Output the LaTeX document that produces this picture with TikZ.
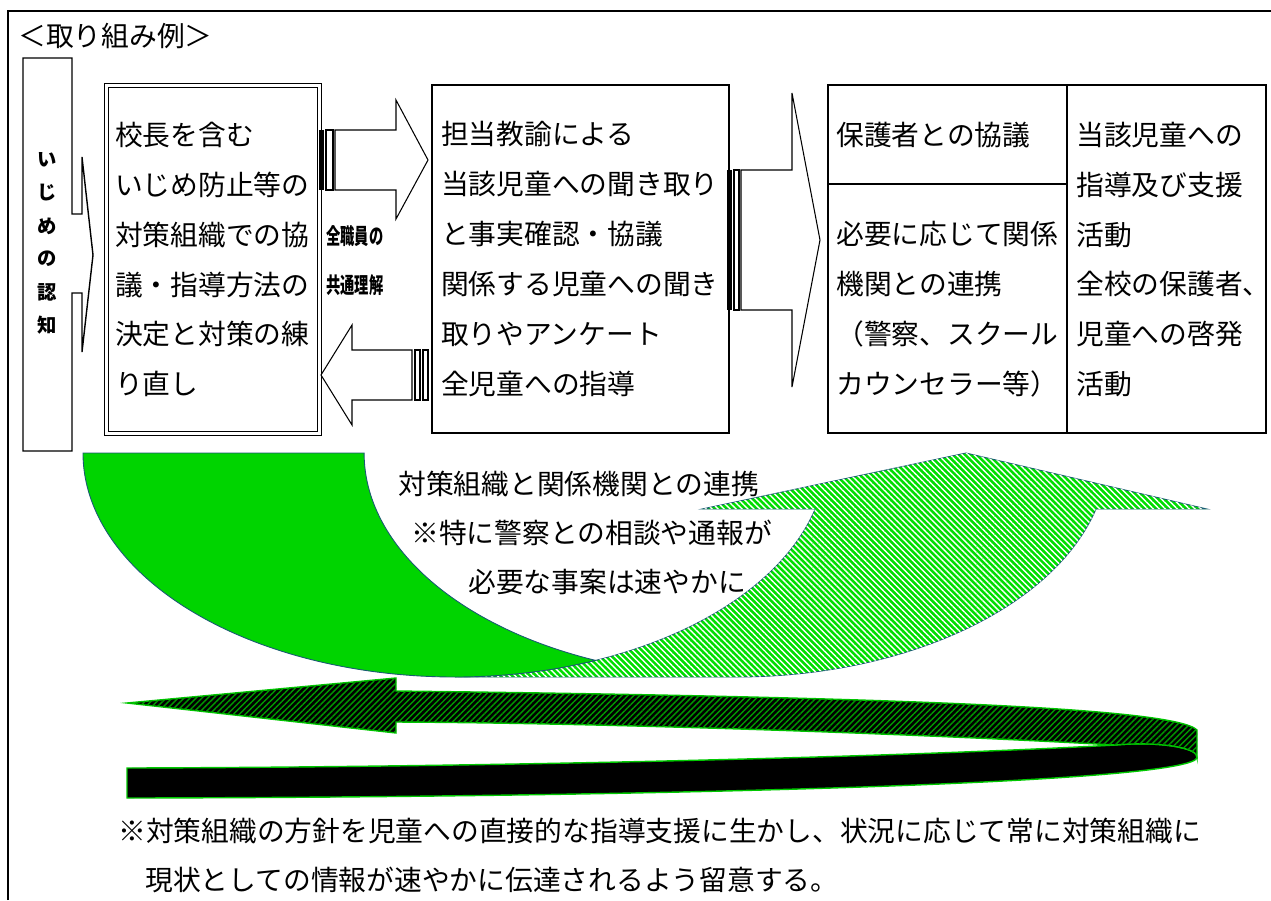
\documentclass[tikz,border=0pt]{standalone}
\usepackage{fontspec}
\setmainfont{Noto Sans CJK JP}
\usetikzlibrary{positioning,calc,patterns.meta}
\definecolor{solidgreen}{RGB}{0,212,0}
\definecolor{stripegreen}{RGB}{0,222,0}
\definecolor{edgeteal}{RGB}{25,90,115}
\definecolor{rimgreen}{RGB}{0,200,0}
\newcommand\honbun{\fontsize{15.8}{28.4}\selectfont}

\begin{document}
\begin{tikzpicture}[x=0.02cm,y=-0.02cm,
	txt/.style={font=\honbun, inner sep=0pt, align=left},
	box/.style={draw, line width=1pt, inner sep=0pt, font=\honbun, align=left},
	narrow/.style={anchor=west, inner sep=0pt, font=\bfseries\fontsize{12.5}{12.5}\selectfont},
	blockarrow/.style={draw, line width=0.6pt},
	]
	\useasboundingbox (0,0) rectangle (1271,900);
	\draw[line width=1pt] (8,900) -- (8,11) -- (1271,11);
	\node[txt, anchor=west] (rei) at (18,36) {＜取り組み例＞};

	% いじめの認知
	\draw[line width=0.8pt] (23,58) -- (72,58) -- (72,214) -- (82,214) -- (82,157) -- (93,255)
		-- (82,352) -- (82,293) -- (72,293) -- (72,451) -- (23,451) -- cycle;
	\foreach \c [count=\i] in {い,じ,め,の,認,知}
		\node[inner sep=0pt, font=\bfseries\fontsize{11}{11}\selectfont] (ninchi\i) at (47,{127+33*\i}) {\c};

	\node[box, double, double distance=1.6pt, line width=0.8pt, minimum width=4.26cm, minimum height=6.96cm, text width=3.92cm] (kyogi) at (213,259.5)
		{校長を含む\\いじめ防止等の\\対策組織での協\\議・指導方法の\\決定と対策の練\\り直し};
	\node[box, minimum width=5.94cm, minimum height=6.96cm, text width=5.58cm] (kikitori) at (580.5,259)
		{担当教諭による\\当該児童への聞き取り\\と事実確認・協議\\関係する児童への聞き\\取りやアンケート\\全児童への指導};

	\node[box, minimum width=8.76cm, minimum height=6.96cm] (taio) at (1047,259) {};
	\draw[line width=1pt] ($(taio.north west)+(240,0)$) -- ($(taio.south west)+(240,0)$);
	\draw[line width=1pt] ($(taio.north west)+(0,100)$) -- ++(240,0);
	\node[txt, anchor=west] (hogosha) at (836,135) {保護者との協議};
	\node[txt, anchor=west] (kikan) at (836,309.5)
		{必要に応じて関係\\機関との連携\\（警察、スクール\\カウンセラー等）};
	\node[txt, anchor=west] (shien) at (1076,259.5)
		{当該児童への\\指導及び支援\\活動\\全校の保護者、\\児童への啓発\\活動};

	% 全職員の共通理解
	\fill (319,130) rectangle (324,190);
	\draw[blockarrow] (326,130) rectangle (333,190);
	\draw[blockarrow] (335,130) -- (396,130) -- (396,100) -- (428,160) -- (396,219) -- (396,190) -- (335,190) -- cycle;
	\draw[blockarrow] (412,350) -- (352,350) -- (352,325) -- (321,375) -- (352,425) -- (352,400) -- (412,400) -- cycle;
	\draw[blockarrow] (415,350) rectangle (420,400);
	\draw[blockarrow] (423,350) rectangle (428,400);
	\node[narrow] (zenshokuin) at (326,236) {\scalebox{0.65}[1]{全職員の}};
	\node[narrow] (kyotsu) at (326,285) {\scalebox{0.65}[1]{共通理解}};

	\fill (727,170) rectangle (732,310);
	\draw[blockarrow] (734,170) rectangle (739,310);
	\draw[blockarrow] (741,170) -- (792,170) -- (792,93) -- (820,240) -- (792,387) -- (792,310) -- (741,310) -- cycle;

	% 連携の矢印
	\path[draw=edgeteal, line width=0.5pt, fill=stripegreen,
		postaction={pattern={Lines[angle=-45,distance=2.4pt,line width=0.8pt]}, pattern color=white}]
		(455,677) arc[start angle=90, end angle=14.48, x radius=372, y radius=224]
		-- (702,509) -- (966,453) -- (1207,509) -- (1096,509)
		arc[start angle=14.48, end angle=90, x radius=372, y radius=224] -- cycle;
	\path[draw=edgeteal, line width=0.5pt, fill=solidgreen]
		(83,453) arc[start angle=180, end angle=67.8, x radius=372, y radius=224]
		arc[start angle=112.2, end angle=180, x radius=372, y radius=224] -- cycle;
	\node[txt, anchor=west] (renkei) at (398,484) {対策組織と関係機関との連携};
	\node[txt, anchor=west] (keisatsu) at (411,533) {※特に警察との相談や通報が};
	\node[txt, anchor=west] (sumiyaka) at (468,582) {必要な事案は速やかに};

	% 戻りの矢印
	\path[draw=rimgreen, line width=0.8pt, fill=black]
		(127,768) .. controls (500,767) and (900,757) .. (1115,745)
		.. controls (1160,741) and (1200,748) .. (1197,758)
		.. controls (1185,782) and (700,797) .. (127,798) -- cycle;
	\path[draw=rimgreen, line width=0.8pt, fill=black,
		postaction={pattern={Lines[angle=45,distance=2.4pt,line width=0.8pt]}, pattern color=green!60!black}]
		(127,703) -- (396,678) -- (396,691) .. controls (900,697) and (1175,708) .. (1197,730)
		-- (1197,758) .. controls (1200,748) and (1160,741) .. (1115,745)
		.. controls (900,733) and (600,723) .. (396,722) -- (396,733) -- cycle;

	\node[txt, anchor=west] (ryuui1) at (118,831) {※対策組織の方針を児童への直接的な指導支援に生かし、状況に応じて常に対策組織に};
	\node[txt, anchor=west] (ryuui2) at (145,880) {現状としての情報が速やかに伝達されるよう留意する。};
\end{tikzpicture}
\end{document}
